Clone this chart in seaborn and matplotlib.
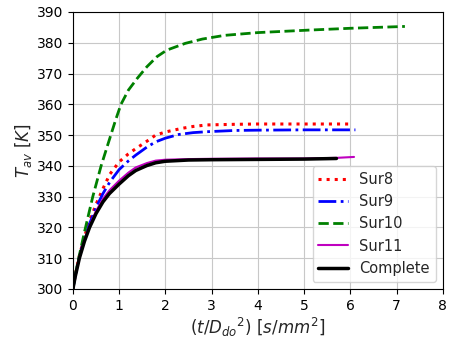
import matplotlib
matplotlib.use("Agg")
import matplotlib.pyplot as plt
import seaborn as sns
import pandas as pd

# ---- data ----
x_sur8 = [0, 0.05, 0.14, 0.25, 0.36, 0.5, 0.65, 0.8, 1.0, 1.2, 1.36, 1.6, 1.79, 2.0, 2.36, 2.6, 2.9, 3.5, 4.0, 5.0, 6.02]
y_sur8 = [300, 304.4, 310.8, 317, 322, 327.5, 332.6, 337.3, 341.3, 343.9, 345.6, 348.0, 350, 351, 352.2, 352.8, 353.3, 353.5, 353.6, 353.6, 353.6]

x_sur9 = [0, 0.05, 0.14, 0.25, 0.36, 0.5, 0.65, 0.8, 1.0, 1.2, 1.36, 1.6, 1.79, 2.0, 2.29, 2.6, 2.9, 3.5, 4.0, 5.0, 6.11]
y_sur9 = [300, 304.3, 310.5, 316.5, 321.2, 326.4, 331.0, 334.8, 338.8, 341.6, 343.5, 346.1, 347.8, 349.0, 350.2, 350.8, 351.1, 351.5, 351.6, 351.7, 351.7]

x_sur10 = [0, 0.05, 0.14, 0.25, 0.43, 0.61, 0.82, 0.93, 1.04, 1.2, 1.39, 1.6, 1.82, 2.03, 2.43, 2.8, 3.28, 4.0, 5.09, 6.0, 7.18]
y_sur10 = [300, 304.5, 311, 318.5, 330, 340, 350, 355.2, 360, 364.6, 368.4, 372.2, 375.5, 377.6, 379.8, 381.2, 382.4, 383.3, 384.1, 384.7, 385.3]

x_sur11 = [0, 0.05, 0.14, 0.25, 0.36, 0.5, 0.65, 0.8, 1.0, 1.2, 1.36, 1.6, 1.79, 2.0, 2.5, 3.0, 4.0, 5.0, 5.7, 6.08]
y_sur11 = [300, 304.2, 310.3, 316, 320.6, 325.3, 329.3, 332.2, 335.2, 337.8, 339.5, 340.9, 341.7, 342.0, 342.2, 342.3, 342.4, 342.4, 342.6, 342.9]

x_comp = [0, 0.05, 0.14, 0.25, 0.36, 0.5, 0.65, 0.79, 1.0, 1.2, 1.36, 1.6, 1.79, 2.0, 2.5, 3.0, 4.0, 5.0, 5.7]
y_comp = [300, 304, 310, 315.5, 320, 324.5, 328.3, 331, 334.1, 336.8, 338.5, 340.1, 341, 341.5, 341.9, 342.0, 342.1, 342.2, 342.4]

series_names = ["Sur8", "Sur9", "Sur10", "Sur11", "Complete"]
x_ticks = [0, 1, 2, 3, 4, 5, 6, 7, 8]
y_ticks = [300, 310, 320, 330, 340, 350, 360, 370, 380, 390]

sns.set_style("ticks")
plt.rcParams["font.family"] = ["DejaVu Sans"]

fig = plt.figure(figsize=(4.5, 3.42), dpi=100)
ax = fig.add_axes([0.162, 0.155, 0.822, 0.81])

styles = [
    (x_sur8, y_sur8, "red", ":", 2.2),
    (x_sur9, y_sur9, "blue", "-.", 2.0),
    (x_sur10, y_sur10, "green", "--", 2.0),
    (x_sur11, y_sur11, "m", "-", 1.5),
    (x_comp, y_comp, "black", "-", 2.5),
]
for name, (xs, ys, c, ls, lw) in zip(series_names, styles):
    df = pd.DataFrame({"x": xs, "y": ys})
    sns.lineplot(data=df, x="x", y="y", ax=ax, color=c, linestyle=ls,
                 linewidth=lw, label=name, sort=False)

ax.set_xlim(0, 8)
ax.set_ylim(300, 390)
ax.set_xticks(x_ticks)
ax.set_yticks(y_ticks)
ax.tick_params(labelsize=10, direction="out", length=3.5, width=0.8, colors="black")
ax.grid(True, color="#c8c8c8", linewidth=0.8)
for s in ax.spines.values():
    s.set_color("black")
    s.set_linewidth(0.8)
ax.set_xlabel(r"$(t/D_{do}{}^{2})\ [s/mm^{2}]$", fontsize=12, labelpad=2)
ax.set_ylabel(r"$T_{av}\ [K]$", fontsize=12, labelpad=2)
ax.legend(loc="lower right", fontsize=10.5, framealpha=0.8, handlelength=2.0)

fig.savefig("out.png", dpi=100)
